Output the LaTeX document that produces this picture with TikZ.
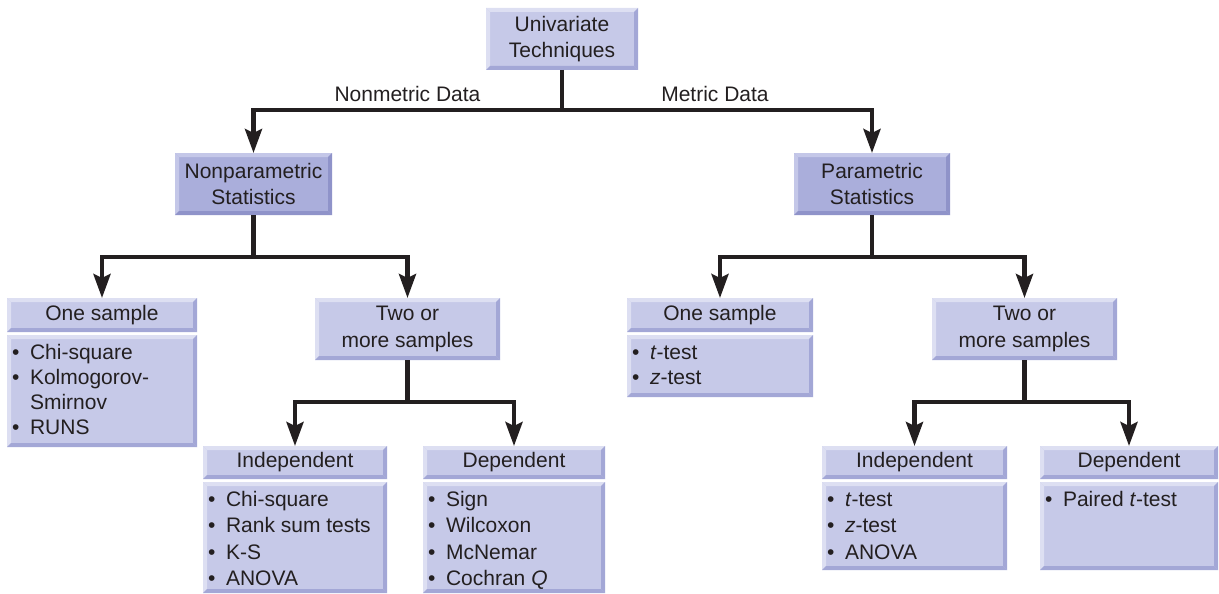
\documentclass[tikz,border=0pt]{standalone}
\usepackage{fontspec}
\setmainfont{Liberation Sans}
\usetikzlibrary{arrows.meta}

\definecolor{ink}{HTML}{231F20}
\definecolor{boxfill}{HTML}{C6C9E8}
\definecolor{bevhi}{HTML}{DDDFF2}
\definecolor{bevlo}{HTML}{A3A7D6}
\definecolor{dboxfill}{HTML}{AAAEDB}
\definecolor{dbevhi}{HTML}{C4C7E8}
\definecolor{dbevlo}{HTML}{8F93C9}

% bullet item with a little extra room after the dot
\newcommand\bul{•\hspace{0.5em}}
\newcommand\firstline{\rule{0pt}{16pt}}

\begin{document}
\begin{tikzpicture}[x=1pt,y=-1pt,
  font=\fontsize{21pt}{26.5pt}\selectfont, text=ink,
  bevel/.style 2 args={path picture={
    \coordinate (bnw) at (path picture bounding box.north west);
    \coordinate (bne) at (path picture bounding box.north east);
    \coordinate (bsw) at (path picture bounding box.south west);
    \coordinate (bse) at (path picture bounding box.south east);
    \fill[#1] (bnw) -- (bne) -- ([shift={(-4pt,-4pt)}]bne) -- ([shift={(4pt,-4pt)}]bnw) -- cycle;
    \fill[#1] (bnw) -- ([shift={(4pt,-4pt)}]bnw) -- ([shift={(4pt,4pt)}]bsw) -- (bsw) -- cycle;
    \fill[#2] (bne) -- (bse) -- ([shift={(-4pt,4pt)}]bse) -- ([shift={(-4pt,-4pt)}]bne) -- cycle;
    \fill[#2] (bsw) -- (bse) -- ([shift={(-4pt,4pt)}]bse) -- ([shift={(4pt,4pt)}]bsw) -- cycle;
  }},
  box/.style={fill=boxfill, inner sep=0pt, outer sep=0pt, align=center, bevel={bevhi}{bevlo}},
  dbox/.style={box, fill=dboxfill, bevel={dbevhi}{dbevlo}},
  list/.style={anchor=north west, align=left, inner sep=0pt},
  listA/.style={list, font=\fontsize{21pt}{25pt}\selectfont},
  listB/.style={list, font=\fontsize{21pt}{26.5pt}\selectfont},
  wire/.style={draw=ink, line width=4.5pt},
  arr/.style={wire, -{Stealth[length=24pt,width=17pt,inset=4pt]}},
  lbl/.style={anchor=base, inner sep=0pt}
]
\useasboundingbox (0,0) rectangle (1219,594);

% top level
\node[box, minimum width=152pt, minimum height=62pt] (univ) at (562,39) {Univariate\\Techniques};
\node[dbox, minimum width=157pt, minimum height=62pt] (np) at (253.5,184) {Nonparametric\\Statistics};
\node[dbox, minimum width=156pt, minimum height=62pt] (pa) at (872,184) {Parametric\\Statistics};

% second level
\node[box, minimum width=190pt, minimum height=34pt] (osLh) at (102,315) {One sample};
\node[box, minimum width=190pt, minimum height=112pt] (osLb) at (102,391) {};
\node[box, minimum width=185pt, minimum height=62pt] (toL) at (407.5,329) {Two or\\more samples};
\node[box, minimum width=186pt, minimum height=34pt] (osRh) at (720,315) {One sample};
\node[box, minimum width=186pt, minimum height=62pt] (osRb) at (720,366) {};
\node[box, minimum width=185pt, minimum height=62pt] (toR) at (1024.5,329) {Two or\\more samples};

% third level
\node[box, minimum width=184pt, minimum height=33pt] (inLh) at (295,462.5) {Independent};
\node[box, minimum width=184pt, minimum height=111pt] (inLb) at (295,537.5) {};
\node[box, minimum width=182pt, minimum height=33pt] (dpLh) at (514,462.5) {Dependent};
\node[box, minimum width=182pt, minimum height=111pt] (dpLb) at (514,537.5) {};
\node[box, minimum width=185pt, minimum height=33pt] (inRh) at (914.5,462.5) {Independent};
\node[box, minimum width=185pt, minimum height=88pt] (inRb) at (914.5,526) {};
\node[box, minimum width=178pt, minimum height=33pt] (dpRh) at (1129,462.5) {Dependent};
\node[box, minimum width=178pt, minimum height=88pt] (dpRb) at (1129,526) {};

% list contents
\node[listA] (osLt) at ([shift={(5pt,-8pt)}]osLb.north west)
  {\firstline\bul Chi-square\\\bul Kolmogorov-\\\phantom{\bul}Smirnov\\\bul RUNS};
\node[listA] (osRt) at ([shift={(5pt,-8pt)}]osRb.north west)
  {\firstline\bul\textit{t}-test\\\bul\textit{z}-test};
\node[listB] (inLt) at ([shift={(5pt,-8pt)}]inLb.north west)
  {\firstline\bul Chi-square\\\bul Rank sum tests\\\bul K-S\\\bul ANOVA};
\node[listB] (dpLt) at ([shift={(5pt,-8pt)}]dpLb.north west)
  {\firstline\bul Sign\\\bul Wilcoxon\\\bul McNemar\\\bul Cochran \textit{Q}};
\node[listB] (inRt) at ([shift={(5pt,-8pt)}]inRb.north west)
  {\firstline\bul\textit{t}-test\\\bul\textit{z}-test\\\bul ANOVA};
\node[listB] (dpRt) at ([shift={(5pt,-8pt)}]dpRb.north west)
  {\firstline\bul Paired \textit{t}-test};

% branch labels
\node[lbl] (nmd) at (407.5,102) {Nonmetric Data};
\node[lbl] (md) at (715,102) {Metric Data};

% connectors
\coordinate (j0) at (562,110);
\coordinate (j1) at (253.5,257);
\coordinate (j2) at (872,257);
\coordinate (j3) at (407.5,402);
\coordinate (j4) at (1024.5,402);

\draw[wire] (univ.south) -- (j0);
\draw[arr] (j0) -| (np.north);
\draw[arr] (j0) -| (pa.north);

\draw[wire] (np.south) -- (j1);
\draw[arr] (j1) -| (osLh.north);
\draw[arr] (j1) -| (toL.north);

\draw[wire] (pa.south) -- (j2);
\draw[arr] (j2) -| (osRh.north);
\draw[arr] (j2) -| (toR.north);

\draw[wire] (toL.south) -- (j3);
\draw[arr] (j3) -| (inLh.north);
\draw[arr] (j3) -| (dpLh.north);

\draw[wire] (toR.south) -- (j4);
\draw[arr] (j4) -| (inRh.north);
\draw[arr] (j4) -| (dpRh.north);
\end{tikzpicture}
\end{document}
